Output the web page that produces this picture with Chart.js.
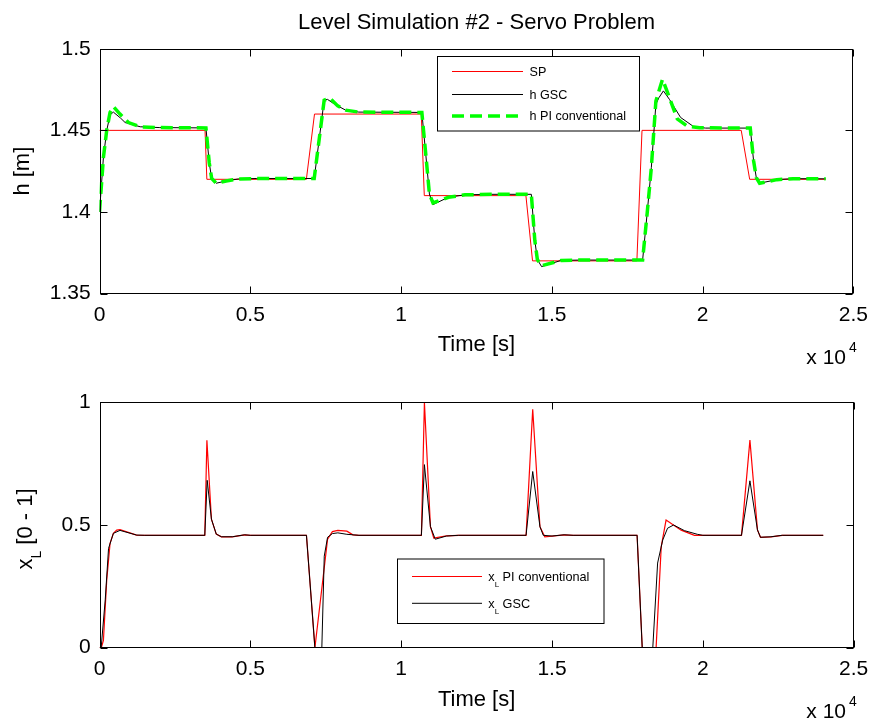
<!DOCTYPE html>
<html>
<head>
<meta charset="utf-8">
<title>Level Simulation #2 - Servo Problem</title>
<script src="https://cdn.jsdelivr.net/npm/chart.js@4.4.1/dist/chart.umd.min.js"></script>
<style>
  html, body { margin: 0; padding: 0; background: #fff; }
  #wrap { position: relative; width: 877px; height: 725px; overflow: hidden; background: #fff; }
  #wrap canvas { position: absolute; left: 0; }
  #levelChart { top: 0; }
  #valveChart { top: 380px; }
</style>
</head>
<body>
<div id="wrap">
  <canvas id="levelChart" width="877" height="380"></canvas>
  <canvas id="valveChart" width="877" height="345"></canvas>
</div>
<script>
// ---- Level set point (SP), time in seconds ----
const spTime  = [0, 3500, 3560, 6860, 7130, 10670, 10770, 14140, 14360, 17820, 17990, 21280, 21560, 24080];
const spLevel = [1.45, 1.45, 1.42, 1.42, 1.46, 1.46, 1.41, 1.41, 1.37, 1.37, 1.45, 1.45, 1.42, 1.42];

// ---- Level response with the GSC controller ----
const gscTime  = [0, 130, 240, 350, 460, 700, 850, 1350, 2000, 3530, 3640, 3720, 3870, 4200, 4600, 5200,
                  7120, 7450, 7560, 7800, 8160, 8600, 10690, 10860, 10940, 11060, 11570, 12120, 13000,
                  14320, 14435, 14520, 14660, 15310, 16000, 18010, 18160, 18300, 18450, 18550, 18700,
                  18900, 19270, 19710, 20100, 21580, 21690, 21780, 21890, 22460, 23000, 24080];
const gscLevel = [1.400, 1.4334, 1.4500, 1.4595, 1.4612, 1.4575, 1.4548, 1.4522, 1.4517, 1.4515, 1.4300,
                  1.4205, 1.4176, 1.4190, 1.4202, 1.4205, 1.4205, 1.4685, 1.4690, 1.4660, 1.4624, 1.4612,
                  1.4610, 1.4273, 1.4110, 1.4045, 1.4090, 1.4105, 1.4108, 1.4108, 1.3826, 1.3708, 1.3665,
                  1.3703, 1.3705, 1.3705, 1.3990, 1.4273, 1.4660, 1.4700, 1.4742, 1.4690, 1.4579, 1.4522,
                  1.4514, 1.4514, 1.4314, 1.4210, 1.4176, 1.4198, 1.4204, 1.4203];

// ---- Level response with the conventional PI controller ----
const piTime  = [0, 130, 240, 350, 460, 680, 960, 1350, 2000, 3530, 3640, 3720, 3870, 4200, 4600, 5200,
                 7120, 7450, 7640, 7900, 8160, 8600, 10690, 10860, 10940, 11060, 11570, 12120, 13000,
                 14320, 14435, 14520, 14660, 15310, 16000, 18010, 18160, 18300, 18450, 18670, 18900,
                 19160, 19500, 19900, 21580, 21690, 21780, 21890, 22460, 23000, 24080];
const piLevel = [1.400, 1.4334, 1.4502, 1.4610, 1.4646, 1.4600, 1.4548, 1.4522, 1.4517, 1.4515, 1.4300,
                 1.4205, 1.4176, 1.4190, 1.4202, 1.4205, 1.4205, 1.4685, 1.4698, 1.4650, 1.4624, 1.4612,
                 1.4610, 1.4273, 1.4110, 1.4055, 1.4090, 1.4105, 1.4108, 1.4108, 1.3826, 1.3708, 1.3670,
                 1.3703, 1.3705, 1.3705, 1.3990, 1.4273, 1.4680, 1.4813, 1.4700, 1.4570, 1.4525, 1.4516,
                 1.4514, 1.4314, 1.4210, 1.4176, 1.4198, 1.4204, 1.4203];

// ---- Valve opening x_L, conventional PI ----
const xlPiTime  = [0, 60, 130, 240, 350, 460, 570, 680, 1230, 1500, 3490, 3560, 3710, 3870, 4040, 4400, 4810,
                   5000, 6860, 7140, 7560, 7720, 7900, 8200, 8400, 8600, 10670, 10770, 10970, 11080, 11500,
                   11900, 14140, 14360, 14600, 14760, 15000, 15400, 15700, 17820, 17990, 18450, 18620, 18780,
                   19280, 19720, 21280, 21560, 21810, 21910, 22260, 22630, 23990];
const xlPiValue = [0, 0, 0.030, 0.276, 0.425, 0.466, 0.479, 0.481, 0.459, 0.458, 0.458, 0.845, 0.524, 0.463,
                   0.452, 0.452, 0.460, 0.458, 0.458, 0, 0.442, 0.473, 0.478, 0.475, 0.460, 0.458, 0.458, 1.0,
                   0.493, 0.447, 0.456, 0.458, 0.458, 0.972, 0.493, 0.452, 0.455, 0.460, 0.458, 0.458, 0,
                   0, 0.412, 0.520, 0.479, 0.458, 0.458, 0.846, 0.480, 0.450, 0.452, 0.458, 0.458];

// ---- Valve opening x_L, GSC ----
const xlGscTime  = [0, 55, 190, 300, 460, 680, 1230, 1500, 3490, 3570, 3710, 3870, 4040, 4400, 4810, 5000,
                    6860, 7140, 7370, 7450, 7560, 7720, 7900, 8200, 8600, 10670, 10770, 10970, 11130, 11500,
                    11900, 14140, 14360, 14600, 14710, 15000, 15400, 15700, 17820, 17990, 18340, 18500, 18670,
                    18830, 19030, 19390, 19820, 20000, 21280, 21560, 21810, 21910, 22260, 22630, 23990];
const xlGscValue = [0, 0, 0.195, 0.405, 0.466, 0.478, 0.459, 0.458, 0.458, 0.682, 0.524, 0.463, 0.452, 0.452,
                    0.460, 0.458, 0.458, 0, 0, 0.373, 0.450, 0.465, 0.468, 0.462, 0.458, 0.458, 0.746, 0.493,
                    0.442, 0.455, 0.458, 0.458, 0.718, 0.493, 0.458, 0.455, 0.460, 0.458, 0.458, 0, 0, 0.345,
                    0.439, 0.487, 0.500, 0.477, 0.462, 0.458, 0.458, 0.680, 0.480, 0.450, 0.452, 0.458, 0.458];

// ---- Axis ticks ----
const timeTicks  = [0, 5000, 10000, 15000, 20000, 25000];
const levelTicks = [1.35, 1.40, 1.45, 1.50];
const valveTicks = [0, 0.5, 1];

const FONT = '"Liberation Sans", Arial, Helvetica, sans-serif';
Chart.defaults.font.family = FONT;
Chart.defaults.color = '#000';

const pairs = (xs, ys) => xs.map((x, i) => ({ x, y: ys[i] }));
const fmt = v => String(+v.toFixed(2));

// Box around the plot, inward tick marks, legend box and the x10^4 exponent
const matlabAxes = {
  id: 'matlabAxes',
  afterDraw(chart, args, o) {
    const { ctx, chartArea } = chart;
    const xs = chart.scales.x, ys = chart.scales.y;
    const L = Math.round(chartArea.left) + 0.5, R = Math.round(chartArea.right) - 0.5;
    const T = Math.round(chartArea.top) + 0.5, B = Math.round(chartArea.bottom) - 0.5;
    ctx.save();
    ctx.strokeStyle = '#000';
    ctx.lineWidth = 1;
    ctx.setLineDash([]);
    ctx.strokeRect(L, T, R - L, B - T);
    const tl = 7;
    ctx.beginPath();
    xs.ticks.forEach(t => {
      const p = Math.round(xs.getPixelForValue(t.value)) + 0.5;
      ctx.moveTo(p, B); ctx.lineTo(p, B - tl);
      ctx.moveTo(p, T); ctx.lineTo(p, T + tl);
    });
    ys.ticks.forEach(t => {
      const p = Math.round(ys.getPixelForValue(t.value)) + 0.5;
      ctx.moveTo(L, p); ctx.lineTo(L + tl, p);
      ctx.moveTo(R, p); ctx.lineTo(R - tl, p);
    });
    ctx.stroke();

    // exponent of the time axis
    ctx.fillStyle = '#000';
    ctx.textBaseline = 'alphabetic';
    ctx.textAlign = 'right';
    ctx.font = '21px ' + FONT;
    ctx.fillText('x 10', 846, chartArea.bottom + 70);
    ctx.textAlign = 'left';
    ctx.font = '14px ' + FONT;
    ctx.fillText('4', 849, chartArea.bottom + 58);

    // legend
    const lg = o.legend;
    if (lg) {
      ctx.fillStyle = '#fff';
      ctx.fillRect(lg.x, lg.y, lg.w, lg.h);
      ctx.strokeStyle = '#000';
      ctx.lineWidth = 1;
      ctx.strokeRect(lg.x, lg.y, lg.w, lg.h);
      lg.rows.forEach(r => {
        const ds = chart.data.datasets[r.ds];
        ctx.save();
        ctx.strokeStyle = ds.borderColor;
        ctx.lineWidth = ds.borderWidth;
        ctx.setLineDash(ds.borderDash || []);
        ctx.beginPath();
        ctx.moveTo(lg.lineX0, r.y);
        ctx.lineTo(lg.lineX1, r.y);
        ctx.stroke();
        ctx.restore();
        ctx.fillStyle = '#000';
        ctx.textAlign = 'left';
        ctx.textBaseline = 'middle';
        let x = lg.textX;
        r.parts.forEach(p => {
          ctx.font = (p.sub ? lg.subSize : lg.size) + 'px ' + FONT;
          ctx.fillText(p.t, x, r.y + 1 + (p.sub ? lg.subShift : 0));
          x += ctx.measureText(p.t).width;
        });
      });
    }

    // rotated axis title with a subscript
    const yt = o.yTitle;
    if (yt) {
      ctx.save();
      ctx.fillStyle = '#000';
      ctx.textBaseline = 'alphabetic';
      ctx.textAlign = 'left';
      let total = 0;
      yt.parts.forEach(p => {
        ctx.font = (p.sub ? yt.subSize : yt.size) + 'px ' + FONT;
        total += ctx.measureText(p.t).width;
      });
      ctx.translate(yt.x, yt.cy + total / 2);
      ctx.rotate(-Math.PI / 2);
      let x = 0;
      yt.parts.forEach(p => {
        ctx.font = (p.sub ? yt.subSize : yt.size) + 'px ' + FONT;
        ctx.fillText(p.t, x, p.sub ? yt.subShift : 0);
        x += ctx.measureText(p.t).width;
      });
      ctx.restore();
    }
    ctx.restore();
  }
};

const tickFont = { family: FONT, size: 21 };
const labelFont = { family: FONT, size: 22 };

function timeAxis(height, padBottom, tickPad) {
  return {
    type: 'linear', min: 0, max: 25000,
    afterBuildTicks: s => { s.ticks = timeTicks.map(v => ({ value: v })); },
    afterFit: s => { s.height = height; },
    ticks: { font: tickFont, padding: tickPad, maxRotation: 0, autoSkip: false, callback: v => fmt(v / 10000) },
    grid: { display: false, drawTicks: false },
    border: { display: false },
    title: { display: true, text: 'Time [s]', font: labelFont, padding: { top: 0, bottom: padBottom } }
  };
}

new Chart(document.getElementById('levelChart'), {
  type: 'line',
  data: {
    datasets: [
      { label: 'h PI conventional', data: pairs(piTime, piLevel), borderColor: '#00ff00', borderWidth: 3.5,
        borderDash: [12, 6], order: 0 },
      { label: 'h GSC', data: pairs(gscTime, gscLevel), borderColor: '#000000', borderWidth: 1, order: 1 },
      { label: 'SP', data: pairs(spTime, spLevel), borderColor: '#ff0000', borderWidth: 1, order: 2 }
    ]
  },
  options: {
    responsive: false, animation: false, devicePixelRatio: 1,
    parsing: true,
    elements: { point: { radius: 0 }, line: { tension: 0, fill: false } },
    layout: { padding: { left: 0, right: 19, top: 0, bottom: 0 } },
    plugins: {
      legend: { display: false }, tooltip: { enabled: false },
      title: { display: true, fullSize: false, text: 'Level Simulation #2 - Servo Problem', color: '#000',
               font: { family: FONT, size: 22, weight: 'normal' }, padding: { top: 10, bottom: 12.4 } },
      matlabAxes: {
        legend: {
          x: 437.5, y: 56.5, w: 202, h: 74.5, lineX0: 452, lineX1: 523, textX: 529.5,
          size: 12.6, subSize: 8, subShift: 0,
          rows: [
            { ds: 2, y: 71.5, parts: [{ t: 'SP' }] },
            { ds: 1, y: 94.5, parts: [{ t: 'h GSC' }] },
            { ds: 0, y: 116, parts: [{ t: 'h PI conventional' }] }
          ]
        }
      }
    },
    scales: {
      x: timeAxis(380 - 293.5, 22, 9),
      y: {
        min: 1.35, max: 1.5,
        afterBuildTicks: s => { s.ticks = levelTicks.map(v => ({ value: v })); },
        afterFit: s => { s.width = 99.5; },
        ticks: { font: tickFont, padding: 8.8, callback: v => fmt(v) },
        grid: { display: false, drawTicks: false },
        border: { display: false },
        title: { display: true, text: 'h [m]', font: labelFont, padding: { top: 10.1, bottom: 0 } }
      }
    }
  },
  plugins: [matlabAxes]
});

new Chart(document.getElementById('valveChart'), {
  type: 'line',
  data: {
    datasets: [
      { label: 'xL GSC', data: pairs(xlGscTime, xlGscValue), borderColor: '#000000', borderWidth: 1, order: 0 },
      { label: 'xL PI conventional', data: pairs(xlPiTime, xlPiValue), borderColor: '#ff0000', borderWidth: 1.2, order: 1 }
    ]
  },
  options: {
    responsive: false, animation: false, devicePixelRatio: 1,
    elements: { point: { radius: 0 }, line: { tension: 0, fill: false } },
    layout: { padding: { left: 0, right: 19, top: 22.3, bottom: 0 } },
    plugins: {
      legend: { display: false }, tooltip: { enabled: false }, title: { display: false },
      matlabAxes: {
        legend: {
          x: 397.5, y: 179, w: 206.5, h: 64.5, lineX0: 412, lineX1: 482, textX: 488.3,
          size: 12.7, subSize: 8, subShift: 7,
          rows: [
            { ds: 1, y: 196.5, parts: [{ t: 'x' }, { t: 'L', sub: true }, { t: ' PI conventional' }] },
            { ds: 0, y: 223.3, parts: [{ t: 'x' }, { t: 'L', sub: true }, { t: ' GSC' }] }
          ]
        },
        yTitle: {
          x: 32, cy: 149, size: 22, subSize: 14, subShift: 9,
          parts: [{ t: 'x' }, { t: 'L', sub: true }, { t: ' [0 - 1]' }]
        }
      }
    },
    scales: {
      x: timeAxis(345 - 267.7, 11.8, 8.7),
      y: {
        min: 0, max: 1,
        afterBuildTicks: s => { s.ticks = valveTicks.map(v => ({ value: v })); },
        afterFit: s => { s.width = 99.5; },
        ticks: { font: tickFont, padding: 8.8, callback: v => fmt(v) },
        grid: { display: false, drawTicks: false },
        border: { display: false },
        title: { display: false }
      }
    }
  },
  plugins: [matlabAxes]
});
</script>
</body>
</html>
